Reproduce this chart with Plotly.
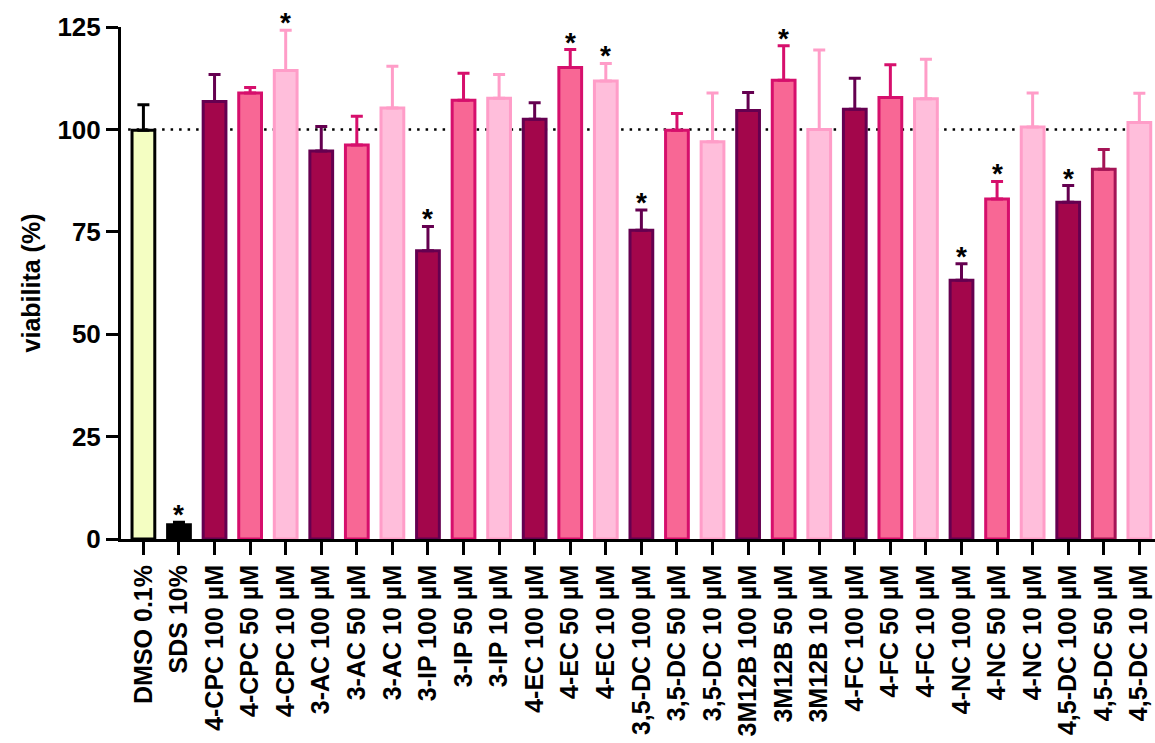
import plotly.graph_objects as go

# Treatment groups along the x axis
categories = [
    "DMSO 0.1%", "SDS 10%",
    "4-CPC 100 µM", "4-CPC 50 µM", "4-CPC 10 µM",
    "3-AC 100 µM", "3-AC 50 µM", "3-AC 10 µM",
    "3-IP 100 µM", "3-IP 50 µM", "3-IP 10 µM",
    "4-EC 100 µM", "4-EC 50 µM", "4-EC 10 µM",
    "3,5-DC 100 µM", "3,5-DC 50 µM", "3,5-DC 10 µM",
    "3M12B 100 µM", "3M12B 50 µM", "3M12B 10 µM",
    "4-FC 100 µM", "4-FC 50 µM", "4-FC 10 µM",
    "4-NC 100 µM", "4-NC 50 µM", "4-NC 10 µM",
    "4,5-DC 100 µM", "4,5-DC 50 µM", "4,5-DC 10 µM",
]

# Mean viability (%) and upper error (SD)
viability = [
    99.8, 3.5,
    106.8, 108.9, 114.4,
    94.7, 96.2, 105.2,
    70.4, 107.1, 107.6,
    102.5, 115.1, 111.8,
    75.4, 99.8, 97.0,
    104.6, 112.0, 100.0,
    104.9, 107.8, 107.5,
    63.2, 83.0, 100.6,
    82.2, 90.3, 101.7,
]
error = [
    6.2, 0.6,
    6.6, 1.3, 9.8,
    6.0, 7.0, 10.2,
    5.9, 6.6, 5.8,
    4.0, 4.4, 4.3,
    4.9, 4.1, 11.9,
    4.4, 8.4, 19.4,
    7.6, 8.0, 9.6,
    4.0, 4.3, 8.3,
    4.1, 4.8, 7.1,
]

# Statistically significant vs. control
significant = [
    "SDS 10%", "4-CPC 10 µM", "3-IP 100 µM", "4-EC 50 µM", "4-EC 10 µM",
    "3,5-DC 100 µM", "3M12B 50 µM", "4-NC 100 µM", "4-NC 50 µM", "4,5-DC 100 µM",
]

# Colour group of each bar
group = ["ctrl", "sds"] + ["c100", "c50", "c10"] * 9
group[categories.index("4,5-DC 50 µM")] = "c50b"

styles = {
    "ctrl": dict(fill="#F4FEC2", edge="#000000"),
    "sds": dict(fill="#000000", edge="#000000"),
    "c100": dict(fill="#A3064B", edge="#650050"),
    "c50": dict(fill="#F86795", edge="#D60F6C"),
    "c50b": dict(fill="#F86795", edge="#A51456"),
    "c10": dict(fill="#FFBEDB", edge="#FF9DC8"),
}

FONT = "Arial, Liberation Sans, Helvetica, sans-serif"

fig = go.Figure()

for g, st in styles.items():
    idx = [i for i, gg in enumerate(group) if gg == g]
    fig.add_trace(go.Bar(
        x=[categories[i] for i in idx],
        y=[viability[i] for i in idx],
        width=0.64,
        marker=dict(color=st["fill"], line=dict(color=st["edge"], width=3)),
        error_y=dict(
            type="data", symmetric=False,
            array=[error[i] for i in idx],
            arrayminus=[0] * len(idx),
            color=st["edge"], thickness=3, width=6,
        ),
        showlegend=False,
    ))

# significance asterisks above the error bars
for c in significant:
    i = categories.index(c)
    fig.add_annotation(
        x=c, y=viability[i] + error[i], text="*", showarrow=False,
        yanchor="bottom", yshift=-10,
        font=dict(family=FONT, size=28, color="black", weight="bold"),
    )

# 100 % reference line
fig.add_shape(
    type="line", xref="x", yref="y", x0=-0.43, x1=28.45, y0=100, y1=100,
    line=dict(color="black", width=2.5, dash="2.5px,6px"), layer="below",
)

fig.update_layout(
    width=1155, height=743,
    margin=dict(l=121, r=0, t=27, b=204),
    plot_bgcolor="white", paper_bgcolor="white",
    barmode="overlay",
    font=dict(family=FONT, color="black", weight="bold"),
    xaxis=dict(
        type="category", categoryorder="array", categoryarray=categories,
        range=[-0.63, 28.44],
        showline=True, linecolor="black", linewidth=3,
        ticks="outside", ticklen=13, tickwidth=3, tickcolor="black",
        tickangle=-90, tickfont=dict(family=FONT, size=25, weight="bold"),
        showgrid=False, zeroline=False,
    ),
    yaxis=dict(
        range=[0, 125], tickvals=[0, 25, 50, 75, 100, 125],
        showline=True, linecolor="black", linewidth=3,
        ticks="outside", ticklen=12, tickwidth=3, tickcolor="black",
        tickfont=dict(family=FONT, size=26, weight="bold"),
        showgrid=False, zeroline=False,
        title=dict(text="viabilita (%)", font=dict(family=FONT, size=25, weight="bold"), standoff=10),
    ),
)

fig.write_html("out.html")
